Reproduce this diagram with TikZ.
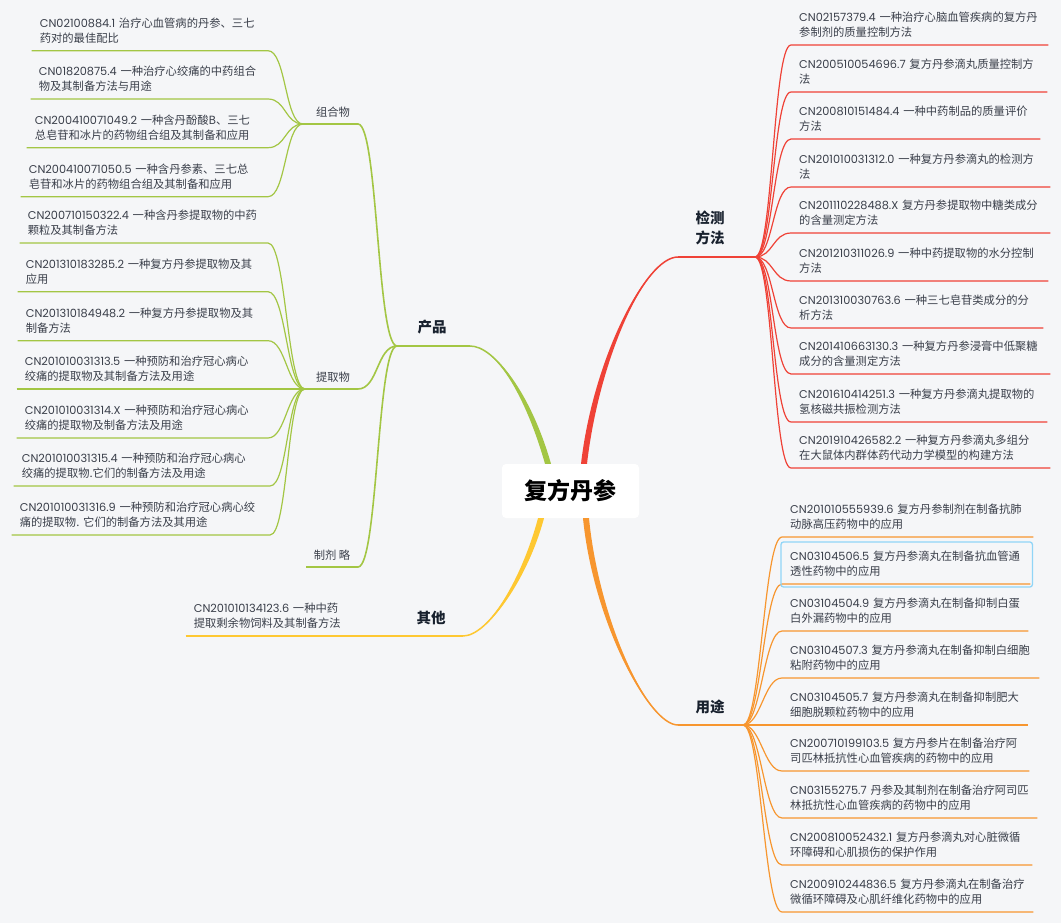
\documentclass[tikz,border=0pt]{standalone}
\usepackage{fontspec}
\setmainfont{Noto Sans CJK SC}
\newfontfamily\latinfont{Poppins}
\usetikzlibrary{calc}
\definecolor{paper}{HTML}{F5F6F8}
\definecolor{ink}{HTML}{3A3F4A}
\definecolor{inkdark}{HTML}{18212E}
\definecolor{prodgreen}{HTML}{A3C644}
\definecolor{testred}{HTML}{EF4237}
\definecolor{useorange}{HTML}{F7962F}
\definecolor{otheryellow}{HTML}{FEC832}
\definecolor{selblue}{HTML}{90D5F7}
\newcommand{\pn}[1]{{\latinfont #1}}
\newcommand{\trunk}[5]{%
  \fill[#1] ($(#2)+(-3,0)$) .. controls ($(#2)+#4+(-3,0)$) and ($(#3)+#5$) .. (#3)
    .. controls ($(#3)+#5$) and ($(#2)+#4+(3,0)$) .. ($(#2)+(3,0)$) -- cycle;
  \draw[#1,line width=1.5pt] (#2) .. controls ($(#2)+#4$) and ($(#3)+#5$) .. (#3);}
\newcommand{\leafR}[7]{%
  \node[leaf,text width=#6pt,anchor=south west] (#1) at (#4,#5) {#7};
  \draw[#2,twig] (#3) .. controls +(18,0) and +(-18,0) .. (#1.south west) -- (#1.south east);}
\newcommand{\leafL}[7]{%
  \node[leaf,text width=#6pt,anchor=south east] (#1) at (#4,#5) {#7};
  \draw[#2,twig] (#1.south west) -- (#1.south east) .. controls +(18,0) and +(-18,0) .. (#3);}

\begin{document}
\begin{tikzpicture}[x=1pt,y=-1pt,
  leaf/.style={font=\fontsize{11.3}{15}\selectfont,text=ink,inner xsep=8pt,inner ysep=3.7pt,
    align=left,execute at end node=\strut},
  twig/.style={line width=1.2pt},
  limb/.style={line width=1.6pt},
  mainlbl/.style={font=\fontsize{14.5}{20}\selectfont\bfseries,text=inkdark,align=center},
  sublbl/.style={font=\fontsize{11.3}{15}\selectfont,text=ink},
  root/.style={fill=white,rounded corners=4pt,minimum width=137pt,minimum height=54pt,
    font=\fontsize{23}{28}\selectfont\bfseries,text=black}]
\useasboundingbox (0,0) rectangle (1061,923);
\fill[paper] (0,0) rectangle (1061,923);

\node[root] (root) at (570.5,491) {复方丹参};
\coordinate (rootG) at ($(root.north)+(-22.5,0)$);
\coordinate (rootR) at ($(root.north)+(13.5,0)$);
\coordinate (rootY) at ($(root.south)+(-29.5,0)$);
\coordinate (rootO) at ($(root.south)+(15.5,0)$);

\node[mainlbl] (prod) at (432,327) {产品};
\node[mainlbl] (test) at (710,227.5) {检测\\方法};
\node[mainlbl] (use) at (710,707) {用途};
\node[mainlbl] (other) at (431,618) {其他};
\coordinate (prodL) at (397,346); \coordinate (prodR) at (470,346);
\coordinate (testL) at (678,257); \coordinate (testR) at (755,257);
\coordinate (useL) at (678,725); \coordinate (useR) at (743,725);
\coordinate (otherL) at (400,636); \coordinate (otherR) at (463,636);

\trunk{prodgreen}{rootG}{prodR}{(-20,-70)}{(25,0)}
\trunk{testred}{rootR}{testL}{(12,-104)}{(-33,0)}
\trunk{useorange}{rootO}{useL}{(10,102)}{(-30,0)}
\trunk{otheryellow}{rootY}{otherR}{(-16,60)}{(25,0)}

\node[sublbl] (mix) at (333,112) {组合物};
\node[sublbl] (extr) at (333,377) {提取物};
\node[sublbl] (prep) at (332,555) {制剂 略};
\coordinate (mixL) at (303,124); \coordinate (mixR) at (358,124);
\coordinate (extrL) at (305,389); \coordinate (extrR) at (358,389);
\coordinate (prepL) at (306,567); \coordinate (prepR) at (358,567);

\draw[prodgreen,limb] (mixL) -- (mixR) .. controls +(20,0) and +(-20,0) .. (prodL) -- (prodR);
\draw[prodgreen,limb] (extrL) -- (extrR) .. controls +(20,0) and +(-20,0) .. (prodL);
\draw[prodgreen,limb] (prepL) -- (prepR) .. controls +(20,0) and +(-20,0) .. (prodL);
\draw[testred,limb] (testL) -- (testR);
\draw[useorange,limb] (useL) -- (useR);
\draw[otheryellow,limb] (otherL) -- (otherR);

\leafL{mix1}{prodgreen}{mixL}{268}{50.7}{220}{\pn{CN02100884.1}~治疗心血管病的丹参、三七\\药对的最佳配比}
\leafL{mix2}{prodgreen}{mixL}{268}{99}{221}{\pn{CN01820875.4}~一种治疗心绞痛的中药组合\\物及其制备方法与用途}
\leafL{mix3}{prodgreen}{mixL}{268}{147.7}{225}{\pn{CN200410071049.2}~一种含丹酚酸B、三七\\总皂苷和冰片的药物组合组及其制备和应用}
\leafL{mix4}{prodgreen}{mixL}{268}{196.7}{231}{\pn{CN200410071050.5}~一种含丹参素、三七总\\皂苷和冰片的药物组合组及其制备和应用}

\leafL{extr1}{prodgreen}{extrL}{268}{243}{232}{\pn{CN200710150322.4}~一种含丹参提取物的中药\\颗粒及其制备方法}
\leafL{extr2}{prodgreen}{extrL}{268}{291.7}{234}{\pn{CN201310183285.2}~一种复方丹参提取物及其\\应用}
\leafL{extr3}{prodgreen}{extrL}{268}{340.7}{234}{\pn{CN201310184948.2}~一种复方丹参提取物及其\\制备方法}
\leafL{extr4}{prodgreen}{extrL}{268}{389}{235}{\pn{CN201010031313.5}~一种预防和治疗冠心病心\\绞痛的提取物及其制备方法及用途}
\leafL{extr5}{prodgreen}{extrL}{268}{438}{235}{\pn{CN201010031314.X}~一种预防和治疗冠心病心\\绞痛的提取物及制备方法及用途}
\leafL{extr6}{prodgreen}{extrL}{270}{486}{240}{\pn{CN201010031315.4}~一种预防和治疗冠心病心\\绞痛的提取物.它们的制备方法及用途}
\leafL{extr7}{prodgreen}{extrL}{270}{535}{242}{\pn{CN201010031316.9}~一种预防和治疗冠心病心绞\\痛的提取物.~它们的制备方法及其用途}

\leafL{other1}{otheryellow}{otherL}{358}{636}{156}{\pn{CN201010134123.6}~一种中药\\提取剩余物饲料及其制备方法}

\leafR{test1}{testred}{testR}{791}{45}{241}{\pn{CN02157379.4}~一种治疗心脑血管疾病的复方丹\\参制剂的质量控制方法}
\leafR{test2}{testred}{testR}{791}{92}{240}{\pn{CN200510054696.7}~复方丹参滴丸质量控制方\\法}
\leafR{test3}{testred}{testR}{791}{139}{233}{\pn{CN200810151484.4}~一种中药制品的质量评价\\方法}
\leafR{test4}{testred}{testR}{791}{187}{243}{\pn{CN201010031312.0}~一种复方丹参滴丸的检测方\\法}
\leafR{test5}{testred}{testR}{791}{233}{243}{\pn{CN201110228488.X}~复方丹参提取物中糖类成分\\的含量测定方法}
\leafR{test6}{testred}{testR}{791}{281}{241}{\pn{CN201210311026.9}~一种中药提取物的水分控制\\方法}
\leafR{test7}{testred}{testR}{791}{328}{236}{\pn{CN201310030763.6}~一种三七皂苷类成分的分\\析方法}
\leafR{test8}{testred}{testR}{791}{374}{243}{\pn{CN201410663130.3}~一种复方丹参浸膏中低聚糖\\成分的含量测定方法}
\leafR{test9}{testred}{testR}{791}{422}{240}{\pn{CN201610414251.3}~一种复方丹参滴丸提取物的\\氢核磁共振检测方法}
\leafR{test10}{testred}{testR}{791}{468}{243}{\pn{CN201910426582.2}~一种复方丹参滴丸多组分\\在大鼠体内群体药代动力学模型的构建方法}

\leafR{use1}{useorange}{useR}{782}{537}{235}{\pn{CN201010555939.6}~复方丹参制剂在制备抗肺\\动脉高压药物中的应用}
\leafR{use2}{useorange}{useR}{782}{584}{232}{\pn{CN03104506.5}~复方丹参滴丸在制备抗血管通\\透性药物中的应用}
\leafR{use3}{useorange}{useR}{782}{631}{230}{\pn{CN03104504.9}~复方丹参滴丸在制备抑制白蛋\\白外漏药物中的应用}
\leafR{use4}{useorange}{useR}{782}{678}{241}{\pn{CN03104507.3}~复方丹参滴丸在制备抑制白细胞\\粘附药物中的应用}
\leafR{use5}{useorange}{useR}{782}{725}{230}{\pn{CN03104505.7}~复方丹参滴丸在制备抑制肥大\\细胞脱颗粒药物中的应用}
\leafR{use6}{useorange}{useR}{782}{771}{231}{\pn{CN200710199103.5}~复方丹参片在制备治疗阿\\司匹林抵抗性心血管疾病的药物中的应用}
\leafR{use7}{useorange}{useR}{782}{818}{239}{\pn{CN03155275.7}~丹参及其制剂在制备治疗阿司匹\\林抵抗性心血管疾病的药物中的应用}
\leafR{use8}{useorange}{useR}{782}{865}{234}{\pn{CN200810052432.1}~复方丹参滴丸对心脏微循\\环障碍和心肌损伤的保护作用}
\leafR{use9}{useorange}{useR}{782}{912}{235}{\pn{CN200910244836.5}~复方丹参滴丸在制备治疗\\微循环障碍及心肌纤维化药物中的应用}

\draw[selblue,line width=1.3pt,rounded corners=2.5pt] ($(use2.south west)+(-1,3)$) rectangle ($(use2.south east)+(2,-42)$);
\end{tikzpicture}
\end{document}
